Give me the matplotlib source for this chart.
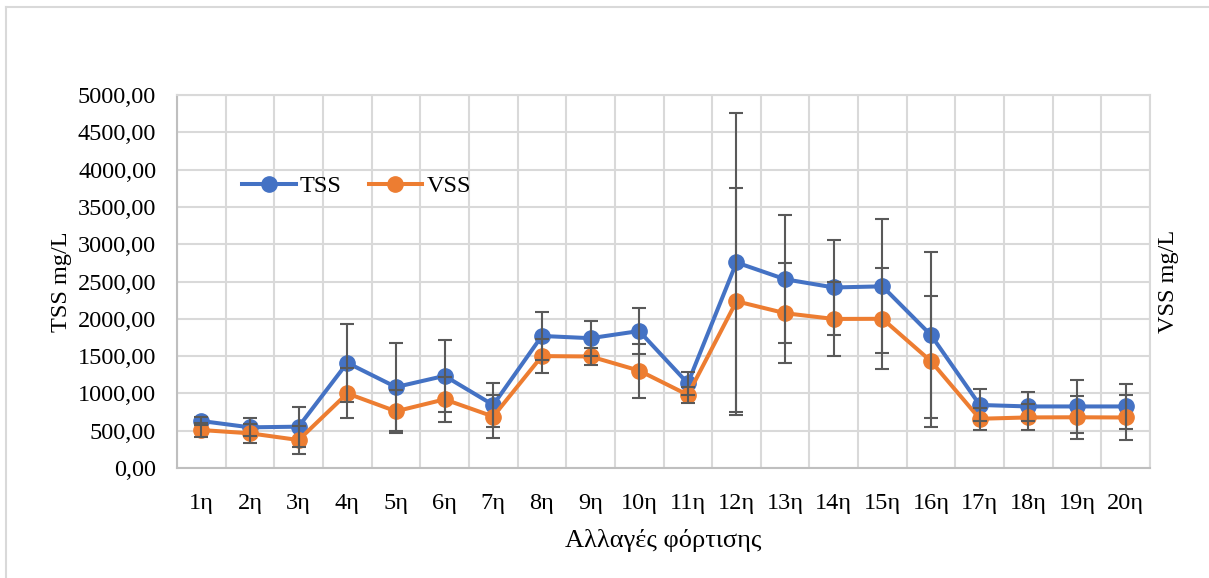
import numpy as np
import matplotlib
matplotlib.use("Agg")
import matplotlib.pyplot as plt
from matplotlib.lines import Line2D
from matplotlib.ticker import FuncFormatter

plt.rcParams['font.family'] = ['Liberation Serif', 'DejaVu Serif']

labels = [f"{i}η" for i in range(1, 21)]
tss = [630, 545, 554, 1410, 1085, 1235, 845, 1770, 1740, 1836, 1135, 2755, 2530, 2420, 2435, 1780, 845, 825, 825, 825]
tss_err = [60, 120, 270, 525, 590, 485, 290, 320, 232, 305, 150, 2000, 855, 640, 900, 1110, 210, 200, 355, 300]
vss = [509, 465, 375, 1000, 760, 920, 690, 1500, 1495, 1305, 980, 2235, 2075, 1998, 2000, 1430, 660, 678, 680, 677]
vss_err = [95, 125, 187, 335, 290, 300, 290, 225, 120, 360, 110, 1520, 670, 495, 675, 880, 150, 175, 290, 300]

blue = "#4472C4"
orange = "#ED7D31"
grid = "#D9D9D9"
errc = "#595959"

fig = plt.figure(figsize=(12.09, 5.78), dpi=100)
ax = fig.add_axes([177/1209, 1-468/578, (1150-177)/1209, (468-95)/578])
x = np.arange(len(labels))

ax.plot(x, tss, color=blue, lw=2.9, marker='o', ms=11, label='TSS', zorder=3)
ax.plot(x, vss, color=orange, lw=2.9, marker='o', ms=11, label='VSS', zorder=4)
ax.errorbar(x, tss, yerr=tss_err, fmt='none', ecolor=errc, elinewidth=1.5, capsize=5, capthick=1.5, zorder=5)
ax.errorbar(x, vss, yerr=vss_err, fmt='none', ecolor=errc, elinewidth=1.5, capsize=5, capthick=1.5, zorder=5)

ax.set_xlim(-0.5, len(labels)-0.5)
ax.set_ylim(0, 5000)
ax.set_yticks(np.arange(0, 5001, 500))
ax.yaxis.set_major_formatter(FuncFormatter(lambda v, p: f"{v:.2f}".replace('.', ',')))
ax.set_xticks(x)
ax.set_xticklabels(labels)
ax.set_xticks(np.arange(-0.5, len(labels), 1), minor=True)
ax.grid(True, which='minor', axis='x', color=grid, lw=1.5)
ax.grid(True, which='major', axis='y', color=grid, lw=1.5)
ax.set_axisbelow(True)
ax.tick_params(axis='both', which='both', length=0, labelsize=17.5)
ax.tick_params(axis='y', pad=15)
ax.tick_params(axis='x', pad=18)
for s in ax.spines.values():
    s.set_color(grid)
    s.set_linewidth(1.5)
ax.spines['bottom'].set_color("#BFBFBF")
ax.spines['left'].set_color("#BFBFBF")

ax.set_xlabel("Αλλαγές φόρτισης", fontsize=19, labelpad=11)
ax.set_ylabel("TSS mg/L", fontsize=17.5, labelpad=4)

ax2 = ax.twinx()
ax2.set_ylim(0, 5000)
ax2.set_yticks([])
for s in ax2.spines.values():
    s.set_visible(False)
ax2.set_ylabel("VSS mg/L", fontsize=17.5, labelpad=6)

ax.legend(loc='center left', bbox_to_anchor=(0.067, 0.756), ncol=2, frameon=False,
          fontsize=17.5, handlelength=2.2, columnspacing=1.1, handletextpad=0.18,
          borderpad=0, borderaxespad=0)

fig.add_artist(Line2D([6/1209, 6/1209], [0, 1-7/578], color=grid, lw=1.5))
fig.add_artist(Line2D([6/1209, 1], [1-7/578, 1-7/578], color=grid, lw=1.5))

fig.savefig("out.png", dpi=100)
